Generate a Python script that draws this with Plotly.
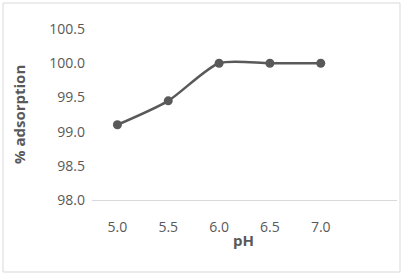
import plotly.graph_objects as go

ph_labels = ["5.0", "5.5", "6.0", "6.5", "7.0"]
adsorption = [99.1, 99.45, 100.0, 100.0, 100.0]
y_ticks = [98.0, 98.5, 99.0, 99.5, 100.0, 100.5]

fig = go.Figure()
fig.add_trace(go.Scatter(
    x=list(range(len(ph_labels))), y=adsorption,
    mode="lines+markers",
    line=dict(color="#595959", width=2.5, shape="spline", smoothing=0.7),
    marker=dict(color="#595959", size=9),
    showlegend=False,
))

L, R, T, B = 92, 6, 29, 75
W, H = 403, 275
pw, ph = W - L - R, H - T - B

fig.update_layout(
    width=W, height=H,
    margin=dict(l=L, r=R, t=T, b=B),
    paper_bgcolor="white", plot_bgcolor="white",
    font=dict(family="Open Sans", color="#595959", size=14),
    xaxis=dict(
        range=[-0.5, 5.5],
        tickmode="array", tickvals=list(range(len(ph_labels))), ticktext=ph_labels,
        showgrid=False, zeroline=False,
        showline=True, linecolor="#d9d9d9", linewidth=1,
        ticks="", ticklabelstandoff=14,
    ),
    yaxis=dict(
        range=[98.0, 100.5],
        tickmode="array", tickvals=y_ticks, ticktext=[f"{v:.1f}" for v in y_ticks],
        showgrid=False, zeroline=False, showline=False,
        ticks="", ticklabelstandoff=6,
    ),
)

fig.add_annotation(text="<b>pH</b>", xref="paper", yref="paper",
                   x=(243 - L) / pw, y=(H - B - 240) / ph,
                   xanchor="center", yanchor="middle", showarrow=False,
                   font=dict(size=15, color="#595959"))
fig.add_annotation(text="<b>% adsorption</b>", xref="paper", yref="paper",
                   x=(19 - L) / pw, y=(H - B - 115) / ph, textangle=-90,
                   xanchor="center", yanchor="middle", showarrow=False,
                   font=dict(size=15, color="#595959"))

fig.add_shape(type="rect", xref="paper", yref="paper",
              x0=(3 - L) / pw, x1=(400 - L) / pw,
              y0=(H - B - 272) / ph, y1=(H - B - 3) / ph,
              line=dict(color="#d9d9d9", width=1), fillcolor="rgba(0,0,0,0)")

fig.write_html("out.html", config={"displayModeBar": False},
               post_script="document.body.style.margin='0';")
